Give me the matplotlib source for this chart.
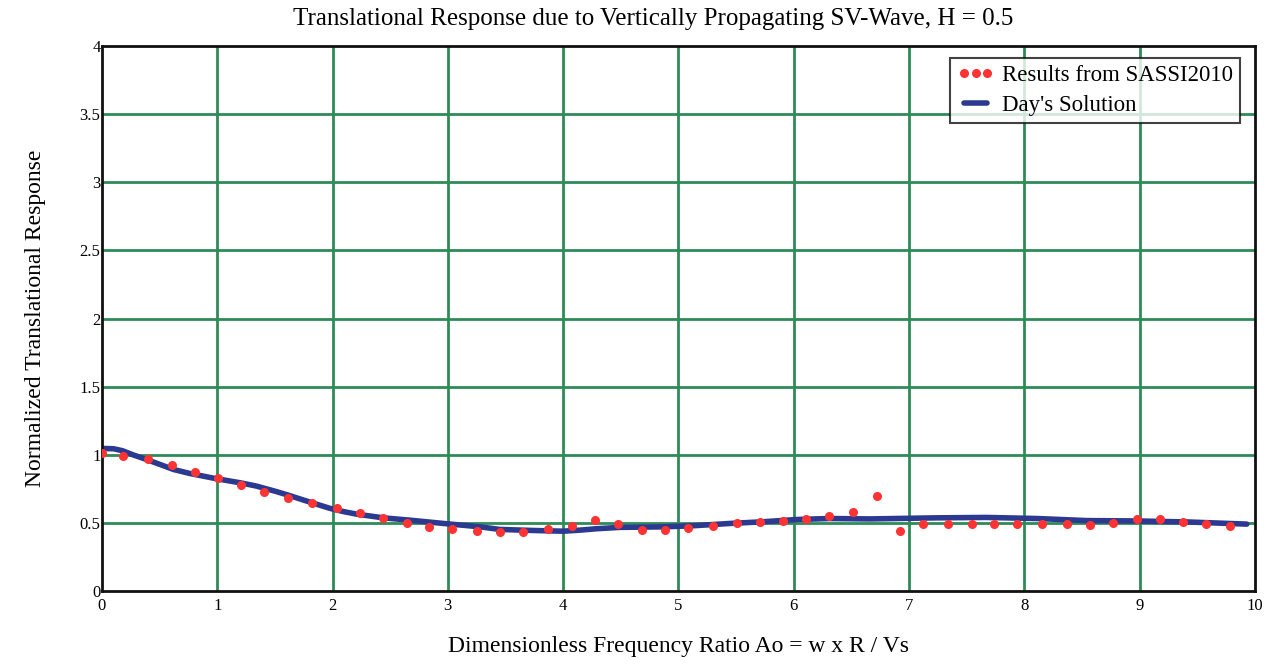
import matplotlib.pyplot as plt

plt.rcParams['font.family'] = ['Liberation Serif', 'DejaVu Serif']

# SASSI2010 results (red dots)
sassi_x = [0.00, 0.18, 0.40, 0.61, 0.81, 1.01, 1.21, 1.41, 1.61, 1.82,
           2.04, 2.24, 2.44, 2.65, 2.84, 3.04, 3.25, 3.45, 3.65, 3.87,
           4.08, 4.28, 4.48, 4.68, 4.88, 5.08, 5.30, 5.51, 5.71, 5.91,
           6.11, 6.31, 6.51, 6.72, 6.92, 7.12, 7.34, 7.55, 7.74, 7.94,
           8.15, 8.37, 8.57, 8.77, 8.98, 9.18, 9.38, 9.58, 9.78]
sassi_y = [1.01, 0.99, 0.967, 0.925, 0.876, 0.827, 0.778, 0.73, 0.68, 0.644,
           0.607, 0.57, 0.534, 0.497, 0.472, 0.455, 0.443, 0.431, 0.431, 0.455,
           0.479, 0.521, 0.49, 0.448, 0.448, 0.46, 0.479, 0.50, 0.509, 0.516,
           0.533, 0.55, 0.582, 0.70, 0.44, 0.49, 0.49, 0.49, 0.49, 0.49,
           0.49, 0.49, 0.485, 0.50, 0.526, 0.53, 0.51, 0.49, 0.478]

# Day's solution (blue line)
day_x = [0.0, 0.1, 0.18, 0.27, 0.38, 0.48, 0.62, 0.76, 0.98, 1.2, 1.34, 1.52,
         1.64, 1.75, 1.87, 1.98, 2.1, 2.21, 2.44, 2.67, 2.96, 3.28, 3.45, 3.71,
         4.0, 4.15, 4.29, 4.49, 4.87, 5.13, 5.45, 5.73, 6.03, 6.31, 6.66, 7.24,
         7.67, 8.11, 8.54, 8.98, 9.41, 9.93]
day_y = [1.047, 1.045, 1.03, 1.0, 0.968, 0.937, 0.893, 0.864, 0.827, 0.795,
         0.771, 0.729, 0.698, 0.668, 0.636, 0.607, 0.583, 0.565, 0.538, 0.521,
         0.497, 0.472, 0.453, 0.446, 0.44, 0.448, 0.458, 0.468, 0.472, 0.48,
         0.497, 0.509, 0.526, 0.533, 0.53, 0.538, 0.541, 0.533, 0.518, 0.515,
         0.508, 0.492]

fig = plt.figure(figsize=(12.74, 6.65), dpi=100)
ax = fig.add_axes([0.080, 0.111, 0.905, 0.820])

grid_c = '#2e8b57'
for gx in range(1, 10):
    ax.axvline(gx, color=grid_c, lw=2, zorder=1)
for gy in [0.5, 1, 1.5, 2, 2.5, 3, 3.5]:
    ax.axhline(gy, color=grid_c, lw=2, zorder=1)

ax.plot(sassi_x, sassi_y, linestyle='none', marker='o', markersize=5.5,
        color='#ff3333', label='Results from SASSI2010', zorder=3)
ax.plot(day_x, day_y, color='#2b3990', lw=4, solid_capstyle='round',
        solid_joinstyle='round', label="Day's Solution", zorder=2)

ax.set_xlim(0, 10)
ax.set_ylim(0, 4)
ax.set_xticks(range(0, 11))
ax.set_yticks([0, 0.5, 1, 1.5, 2, 2.5, 3, 3.5, 4])
ax.set_yticklabels(['0', '0.5', '1', '1.5', '2', '2.5', '3', '3.5', '4'])
ax.tick_params(length=0, labelsize=12)
ax.tick_params(axis='x', pad=5)
ax.tick_params(axis='y', pad=1)
for s in ax.spines.values():
    s.set_linewidth(2)
    s.set_color('#111111')

ax.set_title('Translational Response due to Vertically Propagating SV-Wave, H = 0.5',
             fontsize=18, pad=15, x=0.478)
ax.set_xlabel('Dimensionless Frequency Ratio Ao = w x R / Vs', fontsize=17, labelpad=16)
ax.set_ylabel('Normalized Translational Response', fontsize=17, labelpad=24)

leg = ax.legend(loc='upper right', bbox_to_anchor=(0.987, 0.978), fontsize=16.5,
                frameon=True, fancybox=False, numpoints=3, handlelength=1.6,
                handletextpad=0.35, borderpad=0.3, labelspacing=0.4,
                borderaxespad=0)
leg.get_frame().set_edgecolor('#111111')
leg.get_frame().set_linewidth(1.5)

fig.savefig('out.png', dpi=100)
